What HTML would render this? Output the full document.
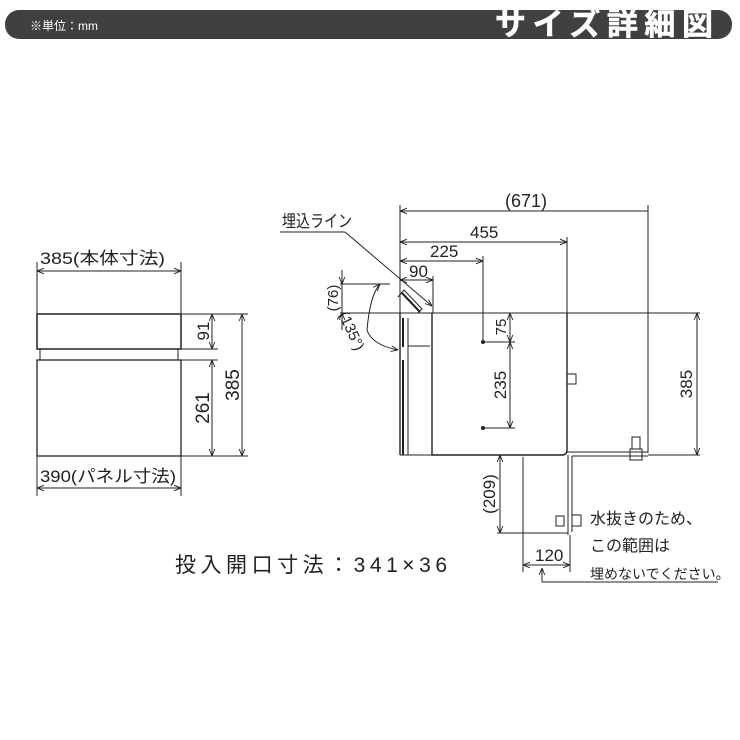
<!DOCTYPE html>
<html><head><meta charset="utf-8"><style>
html,body{margin:0;padding:0;background:#fff}
svg{display:block}
text{font-family:"Liberation Sans","Noto Sans CJK JP",sans-serif;fill:#222}
</style></head><body>
<svg width="740" height="740" viewBox="0 0 740 740" xmlns="http://www.w3.org/2000/svg">
<defs>
<marker id="a" viewBox="0 0 10 10" refX="10" refY="5" markerWidth="7" markerHeight="7" orient="auto-start-reverse"><path d="M0,1 L10,5 L0,9" fill="none" stroke="#222" stroke-width="1.3"/></marker>
</defs>
<rect x="5" y="10" width="727" height="29" rx="14" fill="#404040"/>
<text x="30" y="30" font-size="12" style="fill:#fff">※単位：mm</text>
<text x="495" y="35" font-size="31" font-weight="bold" textLength="218" lengthAdjust="spacing" style="fill:#fff;stroke:#fff;stroke-width:0.6">サイズ詳細図</text>

<g stroke="#222" stroke-width="1" fill="none">
<rect x="37" y="314" width="144" height="35" stroke-width="1.5"/>
<rect x="40" y="349" width="138" height="11"/>
<rect x="37" y="360" width="144" height="96" stroke-width="1.3"/>
<line x1="37" y1="262" x2="37" y2="314"/><line x1="181" y1="262" x2="181" y2="314"/>
<line x1="37" y1="271" x2="181" y2="271" marker-start="url(#a)" marker-end="url(#a)"/>
<line x1="37" y1="456" x2="37" y2="496"/><line x1="181" y1="456" x2="181" y2="496"/>
<line x1="37" y1="488" x2="181" y2="488" marker-start="url(#a)" marker-end="url(#a)"/>
<line x1="181" y1="314" x2="248" y2="314"/><line x1="181" y1="456" x2="248" y2="456"/>
<line x1="181" y1="349" x2="218" y2="349"/><line x1="181" y1="360" x2="218" y2="360"/>
<line x1="212" y1="314" x2="212" y2="349" marker-start="url(#a)" marker-end="url(#a)"/>
<line x1="212" y1="360" x2="212" y2="456" marker-start="url(#a)" marker-end="url(#a)"/>
<line x1="242" y1="314" x2="242" y2="456" marker-start="url(#a)" marker-end="url(#a)"/>

<line x1="340" y1="313" x2="700" y2="313"/>
<path d="M432,313 V455 H562 Q567,455 567,450 V313" stroke-width="1.4"/>
<line x1="400" y1="313" x2="400" y2="455" stroke-width="1.4"/>
<line x1="403" y1="318" x2="403" y2="347" stroke-width="2"/>
<line x1="403" y1="360" x2="403" y2="455" stroke-width="2"/>
<line x1="408" y1="318" x2="408" y2="455"/>
<line x1="408" y1="346" x2="430" y2="346"/>
<line x1="400" y1="455" x2="432" y2="455"/>
<path d="M398,297 L404,290 L422,309 L418,313"/>
<line x1="402" y1="293" x2="420" y2="312" stroke-width="2"/>
<path d="M367,330 Q370,295 380,284" marker-end="url(#a)"/>
<path d="M367,330 Q372,345 398,350" marker-end="url(#a)"/>
<line x1="280" y1="232" x2="345" y2="232"/>
<line x1="345" y1="232" x2="432" y2="306" marker-end="url(#a)"/>
<line x1="400" y1="205" x2="400" y2="313"/>
<line x1="648" y1="205" x2="648" y2="453"/>
<line x1="567" y1="237" x2="567" y2="313"/>
<line x1="483" y1="256" x2="483" y2="342"/>
<line x1="433" y1="276" x2="433" y2="313"/>
<line x1="400" y1="211" x2="648" y2="211" marker-start="url(#a)"/>
<line x1="400" y1="242" x2="567" y2="242" marker-start="url(#a)" marker-end="url(#a)"/>
<line x1="400" y1="261" x2="483" y2="261" marker-start="url(#a)" marker-end="url(#a)"/>
<line x1="400" y1="280" x2="433" y2="280" marker-start="url(#a)" marker-end="url(#a)"/>
<line x1="340" y1="284" x2="390" y2="284"/>
<line x1="342" y1="270" x2="342" y2="284" marker-end="url(#a)"/>
<line x1="342" y1="330" x2="342" y2="313" marker-end="url(#a)"/>
<line x1="342" y1="284" x2="342" y2="313"/>
<line x1="483" y1="342" x2="515" y2="342"/><line x1="483" y1="428" x2="515" y2="428"/>
<line x1="510" y1="313" x2="510" y2="342" marker-start="url(#a)" marker-end="url(#a)"/>
<line x1="510" y1="342" x2="510" y2="428" marker-start="url(#a)" marker-end="url(#a)"/>
<rect x="567" y="374" width="9" height="10"/>
<line x1="567" y1="452" x2="648" y2="452"/><line x1="572" y1="456" x2="648" y2="456"/>
<rect x="632" y="437" width="8" height="12"/><rect x="630" y="449" width="12" height="11"/>
<line x1="648" y1="455" x2="700" y2="455"/>
<line x1="697" y1="313" x2="697" y2="455" marker-start="url(#a)" marker-end="url(#a)"/>
<line x1="568" y1="455" x2="568" y2="535"/><line x1="572" y1="456" x2="572" y2="532"/>
<line x1="523" y1="457" x2="523" y2="572"/>
<line x1="570" y1="535" x2="570" y2="572"/>
<line x1="497" y1="533" x2="568" y2="533"/>
<line x1="500" y1="455" x2="500" y2="533" marker-start="url(#a)" marker-end="url(#a)"/>
<line x1="523" y1="565" x2="570" y2="565" marker-start="url(#a)" marker-end="url(#a)"/>
<rect x="556" y="516" width="8" height="10"/><rect x="572" y="515" width="9" height="11"/>
<path d="M542,582 V568" marker-end="url(#a)"/>
<path d="M542,582 H718"/>
</g>
<g fill="#222"><circle cx="483" cy="342" r="2"/><circle cx="483" cy="428" r="2"/></g>

<g font-size="17">
<text x="40" y="264" font-size="17" textLength="125" lengthAdjust="spacingAndGlyphs">385(本体寸法)</text>
<text x="40" y="482" font-size="17" textLength="136" lengthAdjust="spacingAndGlyphs">390(パネル寸法)</text>
<text transform="translate(209,331) rotate(-90)" text-anchor="middle">91</text>
<text transform="translate(209,408) rotate(-90)" text-anchor="middle" font-size="19">261</text>
<text transform="translate(239,385) rotate(-90)" text-anchor="middle" font-size="19">385</text>
<text x="505" y="207" font-size="18">(671)</text>
<text x="470" y="238" font-size="17">455</text>
<text x="430" y="257" font-size="17">225</text>
<text x="409" y="277" font-size="17">90</text>
<text x="282" y="227" font-size="17" textLength="70" lengthAdjust="spacingAndGlyphs">埋込ライン</text>
<text transform="translate(338,298) rotate(-90)" text-anchor="middle" font-size="15">(76)</text>
<text transform="translate(347,333) rotate(65)" text-anchor="middle" font-size="15">(135°)</text>
<text transform="translate(506,327) rotate(-90)" text-anchor="middle" font-size="15">75</text>
<text transform="translate(506,385) rotate(-90)" text-anchor="middle" font-size="17">235</text>
<text transform="translate(692,384) rotate(-90)" text-anchor="middle" font-size="17">385</text>
<text transform="translate(495,494) rotate(-90)" text-anchor="middle" font-size="17">(209)</text>
<text x="535" y="561" font-size="17">120</text>
<text x="590" y="524" font-size="16">水抜きのため、</text>
<text x="590" y="551" font-size="16">この範囲は</text>
<text x="590" y="579" font-size="14">埋めないでください。</text>
<text x="175" y="572" font-size="21" textLength="272" lengthAdjust="spacing">投入開口寸法：341×36</text>
</g>
</svg>
</body></html>
